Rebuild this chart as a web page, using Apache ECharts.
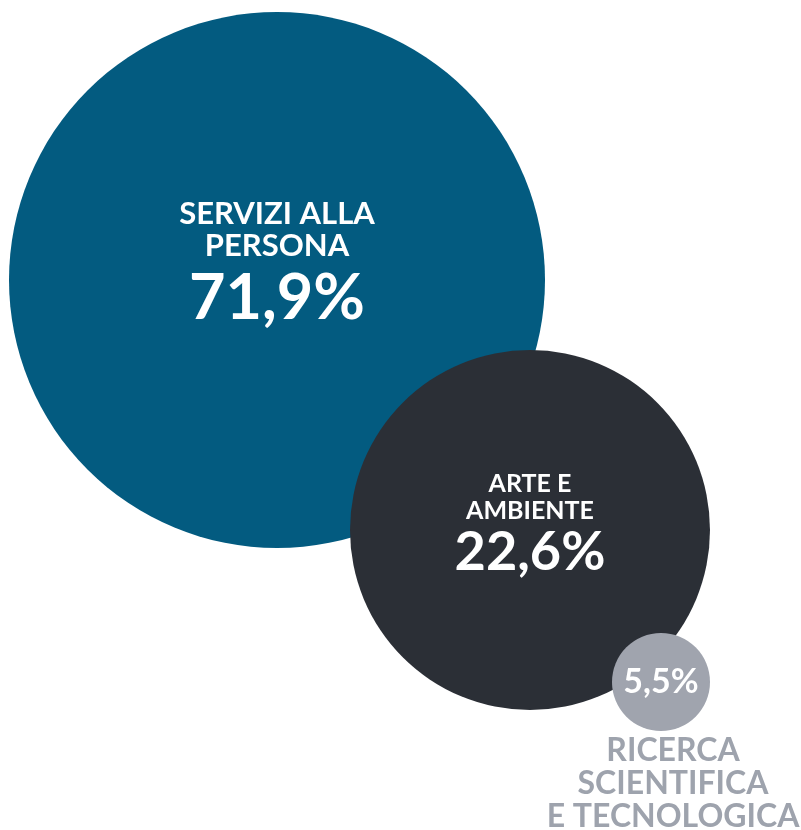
<!DOCTYPE html>
<html>
<head>
<meta charset="utf-8">
<script src="https://cdn.jsdelivr.net/npm/echarts@6/dist/echarts.min.js"></script>
<style>
	html, body { margin: 0; padding: 0; background: #fff; }
	#bubbles { width: 801px; height: 830px; }
</style>
</head>
<body>
<div id="bubbles"></div>
<script>
// data
var categories = ['SERVIZI ALLA\nPERSONA', 'ARTE E\nAMBIENTE', 'RICERCA\nSCIENTIFICA\nE TECNOLOGICA'];
var shares = [71.9, 22.6, 5.5];
// bubble centre and radius, in axis units
var bubbleX = [277, 530, 661];
var bubbleY = [280, 530, 682];
var bubbleR = [268, 180, 49];
var colors = ['#035b80', '#2b2f36', '#a0a4ae'];
var nameInside = [true, true, false];

function pct(v) {
	return v.toFixed(1).replace('.', ',') + '%';
}

var fontName = 'Lato';
var sizes = [
	{ n: 31, nl: 32, p: 63, pl: 74, dy: -13 },
	{ n: 25, nl: 27, p: 54, pl: 58, dy: -4 },
	{ n: 32, nl: 33, p: 34, pl: 36, dy: 0 }
];

var bubbleData = [];
var outsideData = [];
for (var i = 0; i < shares.length; i++) {
	var s = sizes[i];
	var item = {
		name: categories[i],
		value: [bubbleX[i], bubbleY[i], shares[i]],
		symbolSize: bubbleR[i] * 2,
		itemStyle: { color: colors[i], opacity: 1 },
		label: {
			show: true,
			position: 'inside',
			offset: [0, s.dy],
			rich: {
				n: { fontFamily: fontName, fontWeight: 'bold', fontSize: s.n, lineHeight: s.nl, color: '#fff', align: 'center' },
				p: { fontFamily: fontName, fontWeight: 'bold', fontSize: s.p, lineHeight: s.pl, color: '#fff', align: 'center' }
			}
		}
	};
	bubbleData.push(item);
	if (!nameInside[i]) {
		outsideData.push({
			name: categories[i],
			value: [bubbleX[i], bubbleY[i], shares[i]],
			symbolSize: bubbleR[i] * 2,
			label: {
				show: true,
				position: 'bottom',
				distance: 3,
				offset: [12, 0],
				fontFamily: fontName,
				fontWeight: 'bold',
				fontSize: s.n,
				lineHeight: s.nl,
				color: '#9ea3ad',
				align: 'center'
			}
		});
	}
}

var chart = echarts.init(document.getElementById('bubbles'));
var option = {
	animation: false,
	grid: { left: 0, right: 0, top: 0, bottom: 0 },
	xAxis: { type: 'value', min: 0, max: 801, show: false },
	yAxis: { type: 'value', min: 0, max: 830, inverse: true, show: false },
	series: [{
		type: 'scatter',
		data: bubbleData,
		label: {
			formatter: function(params) {
				var i = params.dataIndex;
				var txt = '';
				if (nameInside[i]) {
					txt = categories[i].split('\n').map(function(l) { return '{n|' + l + '}'; }).join('\n') + '\n';
				}
				return txt + '{p|' + pct(shares[i]) + '}';
			}
		}
	}, {
		type: 'scatter',
		data: outsideData,
		itemStyle: { color: 'rgba(0,0,0,0)', opacity: 1 },
		silent: true,
		label: {
			formatter: function(params) {
				return params.name;
			}
		}
	}]
};
chart.setOption(option);
</script>
</body>
</html>
